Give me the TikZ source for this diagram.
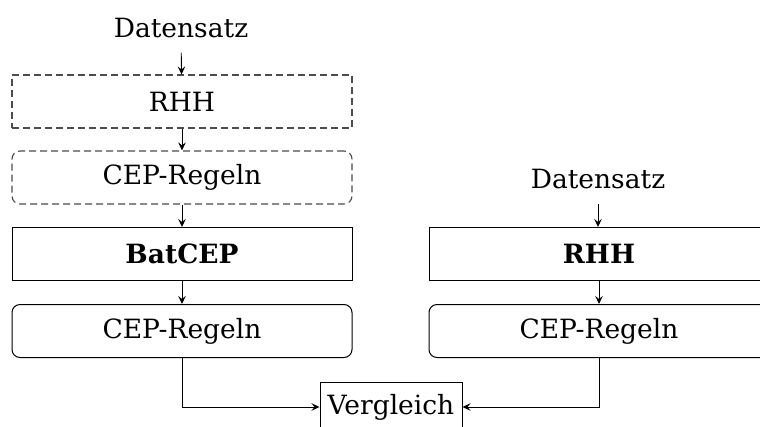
\documentclass[tikz,border=0pt]{standalone}
\usepackage{fontspec}
\setmainfont{DejaVu Serif}
\usetikzlibrary{arrows.meta}
\begin{document}
\begin{tikzpicture}[x=1pt,y=-1pt,
  txt/.style={font=\fontsize{26.5}{32}\selectfont, inner sep=0pt},
  stage/.style={txt, draw, line width=1pt, minimum width=340pt, minimum height=53pt},
  soft/.style={stage, rounded corners=8pt},
  optional/.style={dash pattern=on 7pt off 4pt, draw=black!70, line width=1.1pt},
  flow/.style={line width=0.9pt, -{Stealth[length=8pt,width=7.5pt,inset=3pt]}},
  feed/.style={flow, shorten <=15pt}]
  \useasboundingbox (0,0) rectangle (760,426);
  \clip (0,0) rectangle (760,426);

  % left pipeline
  \node[txt, anchor=base] (dl) at (181,37) {Datensatz};
  \node[stage, optional] (rl) at (182,101.5) {RHH};
  \node[soft, optional] (cl) at (182,177.5) {CEP-Regeln};
  \node[stage] (b) at (182,254) {\bfseries BatCEP};
  \node[soft] (ol) at (182,331) {CEP-Regeln};

  % right pipeline
  \node[txt, anchor=base] (dr) at (598,188) {Datensatz};
  \node[stage] (rr) at (599,254) {\bfseries RHH};
  \node[soft] (or) at (599,331) {CEP-Regeln};

  % comparison
  \node[txt, draw, line width=1pt, minimum width=142pt, minimum height=50pt] (v) at (391,407) {Vergleich};

  \draw[feed] (dl.south) -- (rl);
  \draw[flow] (rl) -- (cl);
  \draw[flow] (cl) -- (b);
  \draw[flow] (b) -- (ol);
  \draw[feed] (dr.south) -- (rr.north -| dr.south);
  \draw[flow] (rr) -- (or);
  \draw[flow] (ol.south) |- (v.west);
  \draw[flow] (or.south) |- (v.east);
\end{tikzpicture}
\end{document}
